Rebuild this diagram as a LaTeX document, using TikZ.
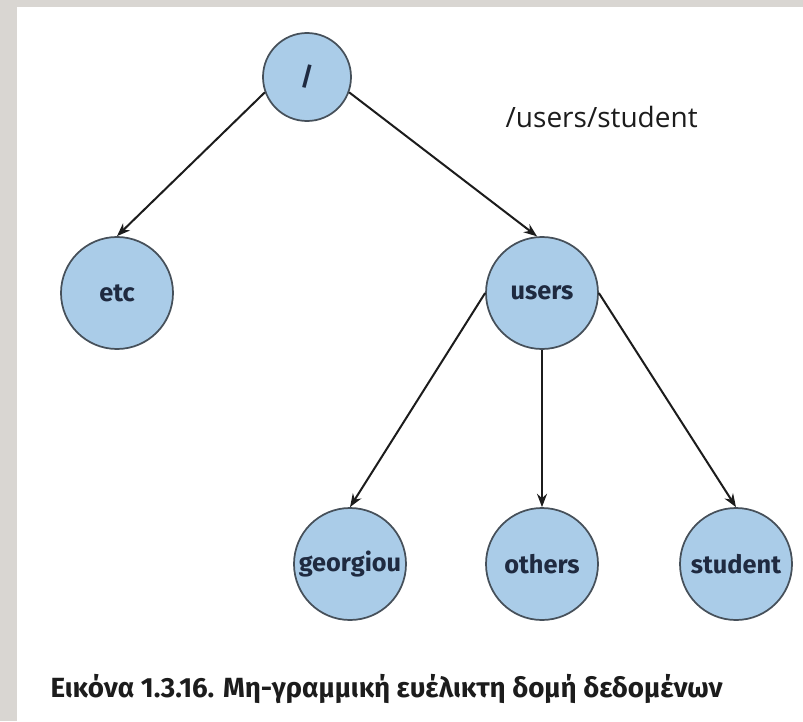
\documentclass[tikz,border=0pt]{standalone}
\usepackage{fontspec}
\setmainfont{Fira Sans}
\newfontfamily\labelfont{Open Sans}
\usetikzlibrary{arrows.meta}
\definecolor{frame}{HTML}{D9D6D2}
\definecolor{nodefill}{HTML}{AACCE8}
\definecolor{nodeline}{HTML}{46505A}
\definecolor{nodetext}{HTML}{1F2A40}
\definecolor{ink}{HTML}{1C1C1C}
\tikzset{
  dirnode/.style={circle, draw=nodeline, fill=nodefill, line width=1.3pt,
    minimum size=84pt, inner sep=0pt, text=nodetext,
    font=\fontsize{19}{22}\selectfont\bfseries},
  rootnode/.style={dirnode, minimum size=66pt},
  link/.style={draw=ink, line width=1.5pt, -{Stealth[length=10pt,width=7.5pt]}}
}
\begin{document}
\begin{tikzpicture}[x=0.75pt, y=-0.75pt]
  % page backdrop
  \fill[frame] (0,0) rectangle (803,721);
  \fill[white] (17,7) rectangle (803,721);
  \useasboundingbox (0,0) rectangle (803,721);

  % directory tree
  \node[rootnode] (root) at (307,77) {/};
  \node[dirnode] (etc) at (117,293) {etc};
  \node[dirnode] (users) at (542,293) {users};
  \node[dirnode] (georgiou) at (350,564) {georgiou};
  \node[dirnode] (others) at (542,564) {others};
  \node[dirnode] (student) at (736,564) {student};

  \node[anchor=west, text=ink, font=\labelfont\fontsize{21}{24}\selectfont] (path) at (501,117) {/users/student};

  \draw[link] (root.200) -- (etc.north);
  \draw[link] (root.-20) -- (users.95);
  \draw[link] (users.west) -- (georgiou.north);
  \draw[link] (users.south) -- (others.north);
  \draw[link] (users.east) -- (student.north);

  % caption
  \node[anchor=west, text=ink, font=\fontsize{20.8}{24}\selectfont\bfseries] (caption) at (46,689)
    {Εικόνα 1.3.16. Μη-γραμμική ευέλικτη δομή δεδομένων};
\end{tikzpicture}
\end{document}
